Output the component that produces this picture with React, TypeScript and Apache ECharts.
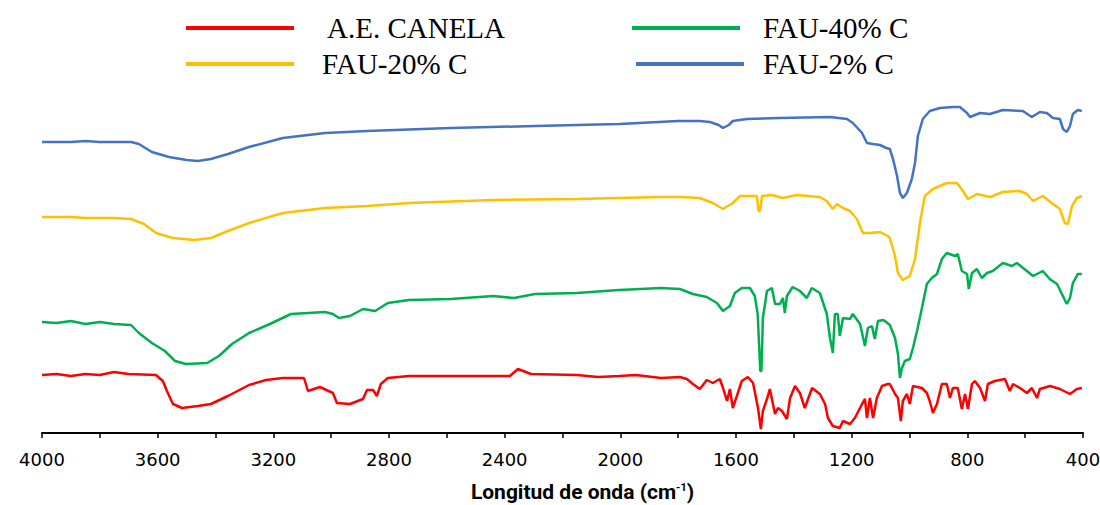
import React, { useEffect, useRef } from "react";
import * as echarts from "echarts";

// FTIR spectra: [wavenumber (cm-1), relative transmittance (offset, a.u.)]
const canela: number[][] = [
  [4000,58],[3950,59],[3900,57],[3850,59],[3800,58],[3751,61],[3700,59],[3606,58],[3582,52],[3568,42],[3547,29],[3516,25],[3461,27],[3416,29],[3357,37],[3284,48],[3225,53],[3167,55],[3094,55],[3080,42],[3039,46],[2994,40],[2980,30],[2935,29],[2890,34],[2876,43],[2855,43],[2842,37],[2828,49],[2804,55],[2731,57],[2586,57],[2382,57],[2354,64],[2309,59],[2150,58],[2077,56],[2004,57],[1946,58],[1859,55],[1794,56],[1770,54],[1749,49],[1725,44],[1701,53],[1680,50],[1656,54],[1645,45],[1631,32],[1621,44],[1611,25],[1597,37],[1580,52],[1559,56],[1541,50],[1524,25],[1514,4],[1507,22],[1493,34],[1483,44],[1465,19],[1455,25],[1441,22],[1424,14],[1413,35],[1396,47],[1379,40],[1362,25],[1337,45],[1310,39],[1292,29],[1282,15],[1265,7],[1241,5],[1230,12],[1206,9],[1189,15],[1164,29],[1154,34],[1147,15],[1137,35],[1126,15],[1113,35],[1095,47],[1075,49],[1068,49],[1050,39],[1040,35],[1030,12],[1023,32],[1009,39],[999,29],[988,47],[957,45],[940,40],[930,32],[919,20],[905,29],[888,49],[871,49],[860,35],[850,45],[833,45],[819,24],[808,39],[798,24],[784,49],[774,52],[756,45],[739,32],[729,49],[705,52],[670,54],[653,42],[642,49],[618,45],[594,40],[577,45],[559,35],[549,44],[514,47],[480,44],[445,39],[421,44],[404,45]
];

const fau40: number[][] = [
  [4000,111],[3950,110],[3900,112],[3850,109],[3800,111],[3751,109],[3692,108],[3665,100],[3620,90],[3575,82],[3540,72],[3502,69],[3429,70],[3388,77],[3343,89],[3284,100],[3212,109],[3139,119],[3080,120],[3021,121],[2994,119],[2973,115],[2935,117],[2890,124],[2848,122],[2804,130],[2731,133],[2586,134],[2440,137],[2368,135],[2295,139],[2150,140],[2004,143],[1859,145],[1794,144],[1749,139],[1701,136],[1666,130],[1645,122],[1621,127],[1604,140],[1580,145],[1552,145],[1535,137],[1525,119],[1516,62],[1512,62],[1507,115],[1493,142],[1476,145],[1465,129],[1448,129],[1438,135],[1431,120],[1424,137],[1404,146],[1379,142],[1355,135],[1338,145],[1310,140],[1286,119],[1275,95],[1265,80],[1258,119],[1248,119],[1241,97],[1230,115],[1206,114],[1196,119],[1171,109],[1154,87],[1144,105],[1130,107],[1120,94],[1109,112],[1090,113],[1068,108],[1050,95],[1040,79],[1033,55],[1026,65],[1016,72],[999,74],[988,85],[974,102],[957,125],[940,149],[923,155],[905,159],[888,174],[871,180],[843,177],[833,179],[819,162],[801,159],[795,144],[784,160],[767,164],[750,155],[732,160],[712,162],[677,170],[646,167],[629,170],[594,162],[573,157],[539,162],[515,154],[490,149],[473,139],[456,129],[445,135],[435,150],[418,159],[404,159]
];

const fau20: number[][] = [
  [4000,216],[3900,216],[3850,215],[3751,215],[3692,214],[3647,209],[3606,200],[3547,195],[3474,193],[3416,195],[3357,202],[3284,210],[3167,220],[3021,225],[2876,227],[2731,230],[2440,233],[2150,234],[1859,236],[1794,236],[1725,235],[1680,230],[1645,224],[1611,230],[1586,237],[1528,237],[1522,222],[1517,222],[1510,237],[1476,238],[1438,235],[1390,238],[1310,236],[1286,232],[1265,224],[1251,229],[1230,225],[1206,222],[1182,214],[1161,200],[1137,200],[1102,201],[1075,197],[1068,195],[1050,177],[1040,160],[1023,153],[999,157],[981,174],[964,210],[947,237],[919,244],[871,250],[836,250],[815,242],[798,234],[767,239],[722,236],[677,241],[618,242],[594,239],[573,232],[539,237],[504,229],[480,224],[463,210],[452,209],[438,227],[421,235],[404,237]
];

const fau2: number[][] = [
  [4000,291],[3900,291],[3850,292],[3800,291],[3692,291],[3665,289],[3620,281],[3561,276],[3500,273],[3461,272],[3416,274],[3357,279],[3284,286],[3167,295],[3021,300],[2876,302],[2586,305],[2295,307],[2004,309],[1800,312],[1725,312],[1690,311],[1660,308],[1645,305],[1625,308],[1611,312],[1562,314],[1448,315],[1275,316],[1216,314],[1196,310],[1180,305],[1164,300],[1147,290],[1126,289],[1102,288],[1080,285],[1068,284],[1057,274],[1043,257],[1033,240],[1023,235],[1009,240],[992,254],[981,270],[971,297],[954,314],[930,322],[895,325],[850,326],[826,326],[801,320],[791,316],[756,320],[722,319],[677,323],[608,322],[577,316],[549,321],[525,320],[504,315],[480,314],[469,304],[456,301],[445,307],[435,319],[418,323],[404,322]
];

const seriesNames = ["A.E. CANELA", "FAU-20% C", "FAU-40% C", "FAU-2% C"];
const seriesColors = ["#FF0000", "#FFC000", "#00B050", "#4472C4"];
const seriesData = [canela, fau20, fau40, fau2];

export default function App() {
  const ref = useRef<HTMLDivElement>(null);
  useEffect(() => {
    if (!ref.current) return;
    const chart = echarts.init(ref.current, null, { renderer: "svg" });
    const legendPos = [
      { left: 186, top: 13, pad: 28 },
      { left: 186, top: 49, pad: 23 },
      { left: 632, top: 13, pad: 18 },
      { left: 636, top: 49, pad: 14 },
    ];
    chart.setOption({
      animation: false,
      backgroundColor: "#fff",
      legend: seriesNames.map((n, i) => ({
        data: [n],
        left: legendPos[i].left,
        top: legendPos[i].top,
        padding: 0,
        icon: "rect",
        itemWidth: 108,
        itemHeight: 4,
        selectedMode: false,
        textStyle: {
          fontFamily: "'Liberation Serif', 'Times New Roman', serif",
          fontSize: 29,
          color: "#000",
          lineHeight: 30,
          padding: [0, 0, 0, legendPos[i].pad],
        },
      })),
      grid: { left: 42, right: 17, top: 83, bottom: 72, outerBoundsMode: "none", containLabel: false },
      xAxis: {
        type: "value",
        min: 400,
        max: 4000,
        interval: 400,
        inverse: true,
        splitLine: { show: false },
        axisLine: { show: true, lineStyle: { color: "#000", width: 2 } },
        axisTick: { show: true, inside: false, length: 5, lineStyle: { color: "#000", width: 1.5 } },
        minorTick: { show: true, splitNumber: 2, length: 5, lineStyle: { color: "#000", width: 1.5 } },
        axisLabel: {
          margin: 17,
          fontFamily: "'DejaVu Sans', sans-serif",
          fontSize: 18,
          color: "#000",
          formatter: (v: number) => String(v),
        },
        name: "{a|Longitud de onda (cm}{s|-1}{a|)}",
        nameLocation: "middle",
        nameGap: 49,
        nameTextStyle: {
          padding: [0, 0, 0, 40],
          rich: {
            a: { fontFamily: "Roboto, sans-serif", fontWeight: "bold", fontSize: 21, color: "#000", lineHeight: 20 },
            s: { fontFamily: "Roboto, sans-serif", fontWeight: "bold", fontSize: 11, color: "#000", lineHeight: 20, verticalAlign: "top" },
          },
        },
      },
      yAxis: {
        type: "value",
        min: 0,
        max: 350,
        show: false,
        splitLine: { show: false },
      },
      series: seriesData.map((d, i) => ({
        name: seriesNames[i],
        type: "line",
        data: d,
        showSymbol: false,
        symbol: "none",
        lineStyle: { color: seriesColors[i], width: 2.5 },
        itemStyle: { color: seriesColors[i] },
        z: 2,
      })),
    });
    return () => chart.dispose();
  }, []);
  return <div ref={ref} style={{ width: 1100, height: 505, position: "absolute", left: 0, top: 0 }} />;
}
